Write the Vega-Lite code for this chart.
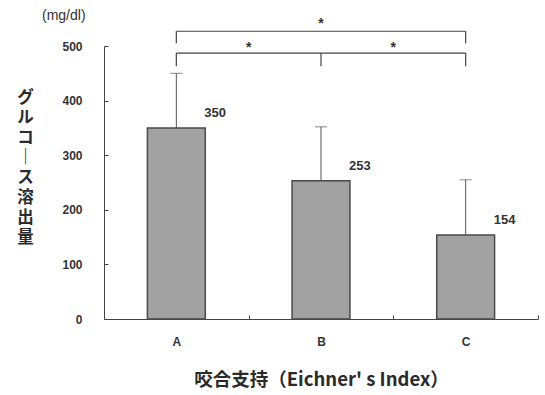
{
  "$schema": "https://vega.github.io/schema/vega-lite/v6.json",
  "autosize": {"type": "none"},
  "padding": {"left": 104, "top": 46, "right": 7, "bottom": 76},
  "width": 434,
  "height": 273,
  "background": "white",
  "title": {
    "text": "(mg/dl)",
    "anchor": "start",
    "frame": "group",
    "dx": -62,
    "offset": -6,
    "font": "Liberation Sans",
    "fontSize": 14,
    "fontWeight": "normal",
    "color": "#333333"
  },
  "config": {
    "view": {"stroke": null},
    "axis": {
      "domainColor": "#444444",
      "tickColor": "#444444",
      "labelFont": "Liberation Sans",
      "labelFontWeight": "bold",
      "labelColor": "#333333",
      "labelFontSize": 12,
      "grid": false
    }
  },
  "datasets": {
    "groups": [
      {"group": "A", "mean": 350, "upper": 450},
      {"group": "B", "mean": 253, "upper": 352},
      {"group": "C", "mean": 154, "upper": 255}
    ],
    "spans": [
      {"from": "A", "to": "C", "level": 527},
      {"from": "A", "to": "B", "level": 487},
      {"from": "B", "to": "C", "level": 487}
    ],
    "legs": [
      {"at": "A", "top": 527, "bottom": 505},
      {"at": "C", "top": 527, "bottom": 505},
      {"at": "A", "top": 487, "bottom": 463},
      {"at": "B", "top": 487, "bottom": 463},
      {"at": "C", "top": 487, "bottom": 463}
    ],
    "stars": [
      {"at": "A", "pos": 1, "level": 497, "mark": "*"},
      {"at": "B", "pos": 1, "level": 497, "mark": "*"},
      {"at": "B", "pos": 0.5, "level": 541, "mark": "*"}
    ]
  },
  "layer": [
    {
      "data": {"name": "groups"},
      "mark": {"type": "rule", "color": "#555555", "strokeWidth": 1},
      "encoding": {
        "x": {
          "field": "group",
          "type": "nominal",
          "scale": {"paddingInner": 0, "paddingOuter": 0},
          "axis": {
            "title": "咬合支持（Eichner' s Index）",
            "titleFont": "Noto Sans CJK JP",
            "titleFontSize": 18.5,
            "titleFontWeight": "bold",
            "titleColor": "#2a2a2a",
            "titleBaseline": "alphabetic",
            "titleY": 66,
            "labelAngle": 0,
            "labelPadding": 21,
            "tickBand": "extent",
            "tickSize": -4
          }
        },
        "y": {
          "field": "upper",
          "type": "quantitative",
          "scale": {"domain": [0, 500], "nice": false},
          "axis": {
            "values": [0, 100, 200, 300, 400, 500],
            "tickSize": -4,
            "labelPadding": 26,
            "title": ["グ", "ル", "コ", "｜", "ス", "溶", "出", "量"],
            "titleAngle": 0,
            "titleFont": "Noto Sans CJK JP",
            "titleFontSize": 16.5,
            "titleFontWeight": "bold",
            "titleLineHeight": 20,
            "titleColor": "#2a2a2a",
            "titleAlign": "center",
            "titleBaseline": "top",
            "titleX": -79,
            "titleY": 43
          }
        },
        "y2": {"field": "mean"}
      }
    },
    {
      "data": {"name": "groups"},
      "mark": {"type": "tick", "color": "#555555", "size": 12, "thickness": 1},
      "encoding": {
        "x": {"field": "group", "type": "nominal"},
        "y": {"field": "upper", "type": "quantitative"}
      }
    },
    {
      "data": {"name": "groups"},
      "mark": {"type": "bar", "width": {"band": 0.4}, "fill": "#a2a2a2", "stroke": "#4a4a4a", "strokeWidth": 1.5},
      "encoding": {
        "x": {"field": "group", "type": "nominal"},
        "y": {"field": "mean", "type": "quantitative"}
      }
    },
    {
      "data": {"name": "groups"},
      "mark": {"type": "text", "align": "left", "baseline": "middle", "dx": 28, "dy": -15, "font": "Liberation Sans", "fontWeight": "bold", "fontSize": 13, "color": "#333333"},
      "encoding": {
        "x": {"field": "group", "type": "nominal"},
        "y": {"field": "mean", "type": "quantitative"},
        "text": {"field": "mean", "type": "quantitative"}
      }
    },
    {
      "data": {"name": "spans"},
      "mark": {"type": "rule", "color": "#444444", "strokeWidth": 1.2},
      "encoding": {
        "x": {"field": "from", "type": "nominal", "bandPosition": 0.5},
        "x2": {"field": "to", "bandPosition": 0.5},
        "y": {"field": "level", "type": "quantitative"}
      }
    },
    {
      "data": {"name": "legs"},
      "mark": {"type": "rule", "color": "#444444", "strokeWidth": 1.2},
      "encoding": {
        "x": {"field": "at", "type": "nominal", "bandPosition": 0.5},
        "y": {"field": "top", "type": "quantitative"},
        "y2": {"field": "bottom"}
      }
    },
    {
      "data": {"name": "stars"},
      "transform": [{"filter": "datum.pos == 1"}],
      "mark": {"type": "text", "font": "Liberation Sans", "fontWeight": "bold", "fontSize": 14, "color": "#333333", "baseline": "middle"},
      "encoding": {
        "x": {"field": "at", "type": "nominal", "bandPosition": 1},
        "y": {"field": "level", "type": "quantitative"},
        "text": {"field": "mark"}
      }
    },
    {
      "data": {"name": "stars"},
      "transform": [{"filter": "datum.pos == 0.5"}],
      "mark": {"type": "text", "font": "Liberation Sans", "fontWeight": "bold", "fontSize": 14, "color": "#333333", "baseline": "middle"},
      "encoding": {
        "x": {"field": "at", "type": "nominal", "bandPosition": 0.5},
        "y": {"field": "level", "type": "quantitative"},
        "text": {"field": "mark"}
      }
    }
  ]
}
